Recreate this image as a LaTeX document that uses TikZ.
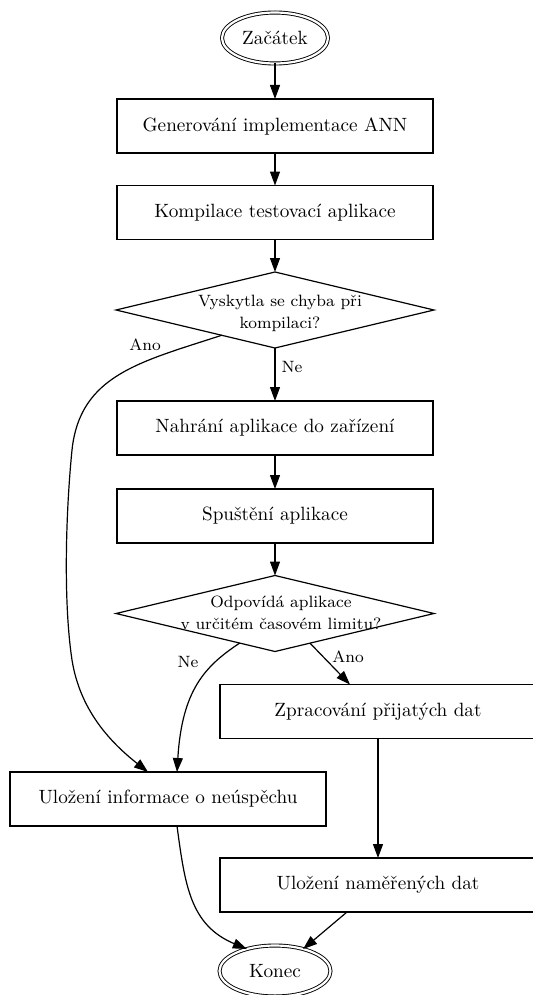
\documentclass[tikz,border=0pt]{standalone}
\usepackage{fontspec}
\usetikzlibrary{shapes.geometric,arrows.meta,calc}
\begin{document}
\begin{tikzpicture}[x=0.5pt,y=-0.5pt,
  every node/.style={outer sep=0pt},
  proc/.style={draw, line width=0.6pt, rectangle, minimum width=158pt, minimum height=27pt, inner sep=0pt, font=\fontsize{9.6}{11.5}\selectfont},
  term/.style={ellipse, draw, double, line width=0.45pt, double distance=1.1pt, minimum width=53pt, minimum height=25.5pt, inner sep=0pt, font=\fontsize{9.6}{11.5}\selectfont},
  dec/.style={diamond, draw, line width=0.6pt, minimum width=159pt, minimum height=38pt, inner sep=0pt},
  dectext/.style={align=center, font=\fontsize{8.2}{11}\selectfont, inner sep=0pt},
  lbl/.style={font=\fontsize{8.2}{10}\selectfont, inner sep=0pt},
  arr/.style={-{Triangle[length=7pt,width=5pt]}, line width=0.6pt},
]
\useasboundingbox (0,0) rectangle (533,995);
\clip (0,0) rectangle (533,995);

\node[term] (st) at (275,38) {Začátek};
\node[proc] (b1) at (275,126) {Generování implementace ANN};
\node[proc] (b2) at (275,212.5) {Kompilace testovací aplikace};
\node[dec] (d1) at (275,310) {};
\node[dectext] (d1t) at (280,313) {Vyskytla se chyba při\\kompilaci?};
\node[proc] (b3) at (275,428) {Nahrání aplikace do zařízení};
\node[proc] (b4) at (275,516) {Spuštění aplikace};
\node[dec] (d2) at (275,613.5) {};
\node[dectext] (d2t) at (281,612.5) {Odpovídá aplikace\\v určitém časovém limitu?};
\node[proc] (b5) at (378,711.5) {Zpracování přijatých dat};
\node[proc] (b6) at (168,799) {Uložení informace o neúspěchu};
\node[proc] (b7) at (378,885) {Uložení naměřených dat};
\node[term, minimum width=55.5pt] (en) at (275,971) {Konec};

\node[lbl] (l1) at (145,345) {Ano};
\node[lbl] (l2) at (292,367) {Ne};
\node[lbl] (l3) at (188,662) {Ne};
\node[lbl] (l4) at (348,657) {Ano};

\draw[arr] (st) -- (b1);
\draw[arr] (b1) -- (b2);
\draw[arr] (b2) -- (d1);
\draw[arr] (d1) -- (b3);
\draw[arr] (b3) -- (b4);
\draw[arr] (b4) -- (d2);
\draw[arr] ($(d1.west)!0.665!(d1.south)$) .. controls (140,362) and (80,375) .. (72,450)
   .. controls (66,510) and (63,600) .. (72,660)
   .. controls (80,710) and (110,742) .. ($(b6.north)+(-20,0)$);
\draw[arr] ($(d2.west)!0.778!(d2.south)$) .. controls (205,666) and (182,690) .. ($(b6.north)+(9,0)$);
\draw[arr] ($(d2.south)!0.22!(d2.east)$) -- ($(b5.north)+(-28,0)$);
\draw[arr] (b5) -- (b7);
\draw[arr] ($(b6.south)+(9,0)$) .. controls (185,885) and (190,925) .. (en.142);
\draw[arr] ($(b7.south)+(-31,0)$) -- (en.38);
\end{tikzpicture}
\end{document}
